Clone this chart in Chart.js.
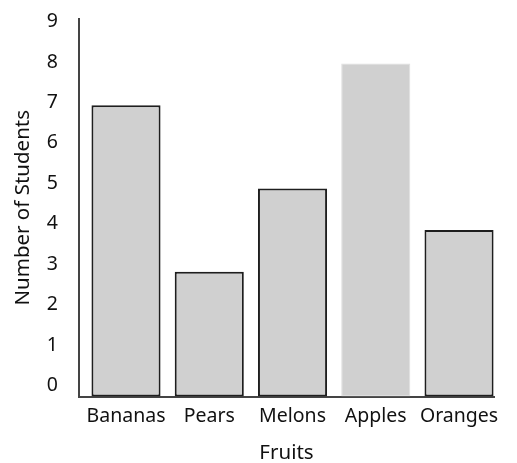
<!DOCTYPE html>
<html>
<head>
<meta charset="utf-8">
<script src="https://cdn.jsdelivr.net/npm/chart.js@4.4.1/dist/chart.umd.min.js"></script>
<style>
html, body { margin: 0; padding: 0; background: #fff; }
</style>
</head>
<body>
<canvas id="chart" width="517" height="463"></canvas>
<script>
// chart data
const fruits = ["Bananas", "Pears", "Melons", "Apples", "Oranges"];
const students = [7, 3, 5, 8, 4];
const yTicks = [0, 1, 2, 3, 4, 5, 6, 7, 8, 9];

const textColor = "#111111";
const fontFamily = "'Noto Sans', 'Open Sans', sans-serif";

// apples bar is drawn without the black outline
const borderColors = fruits.map(f => f == "Apples" ? "#dedede" : "#1e1e1e");
const borderWidths = fruits.map(f => f == "Apples" ? 1 : 2);

const points = students.map((v, i) => ({ x: i, y: v }));

const chart = new Chart(document.getElementById("chart"), {
  type: "bar",
  data: {
    datasets: [{
      data: points,
      backgroundColor: "#d0d0d0",
      borderColor: borderColors,
      borderWidth: borderWidths,
      borderSkipped: false,
      barPercentage: 0.83,
      categoryPercentage: 1,
      yAxisID: "y"
    }]
  },
  options: {
    responsive: false,
    animation: false,
    layout: { padding: { top: 19, right: 23, bottom: 0, left: 0 } },
    plugins: { legend: { display: false }, tooltip: { enabled: false } },
    scales: {
      x: {
        type: "linear",
        offset: false,
        min: -0.5646,
        max: 4.42,
        afterBuildTicks: axis => { axis.ticks = fruits.map((f, i) => ({ value: i })); },
        afterFit: axis => {
          axis.height = 66.5;
          axis.paddingLeft = 0;
          axis.paddingRight = 0;
        },
        grid: { display: false, drawTicks: false },
        border: { display: true, color: "#444444", width: 2 },
        ticks: {
          color: textColor,
          font: { family: fontFamily, size: 19.5 },
          padding: 8,
          autoSkip: false,
          maxRotation: 0,
          minRotation: 0,
          callback: v => fruits[v]
        },
        title: {
          display: true,
          text: "Fruits",
          color: textColor,
          font: { family: fontFamily, size: 20.5, lineHeight: 1 },
          padding: { top: 0, bottom: 0 }
        }
      },
      y: {
        min: 0,
        max: 9.07,
        display: false
      },
      yl: {
        position: "left",
        min: -0.272,
        max: 9.062,
        afterBuildTicks: axis => { axis.ticks = yTicks.map(v => ({ value: v })); },
        afterFit: axis => {
          axis.width = 79;
          axis.paddingTop = 0;
          axis.paddingBottom = 0;
        },
        grid: { display: false, drawTicks: false },
        border: { display: true, color: "#444444", width: 2 },
        ticks: {
          color: textColor,
          font: { family: fontFamily, size: 19.5 },
          padding: 21
        },
        title: {
          display: true,
          text: "Number of Students",
          color: textColor,
          font: { family: fontFamily, size: 20.5, lineHeight: 1 },
          padding: { top: 13, bottom: 0 }
        }
      }
    }
  }
});
</script>
</body>
</html>
